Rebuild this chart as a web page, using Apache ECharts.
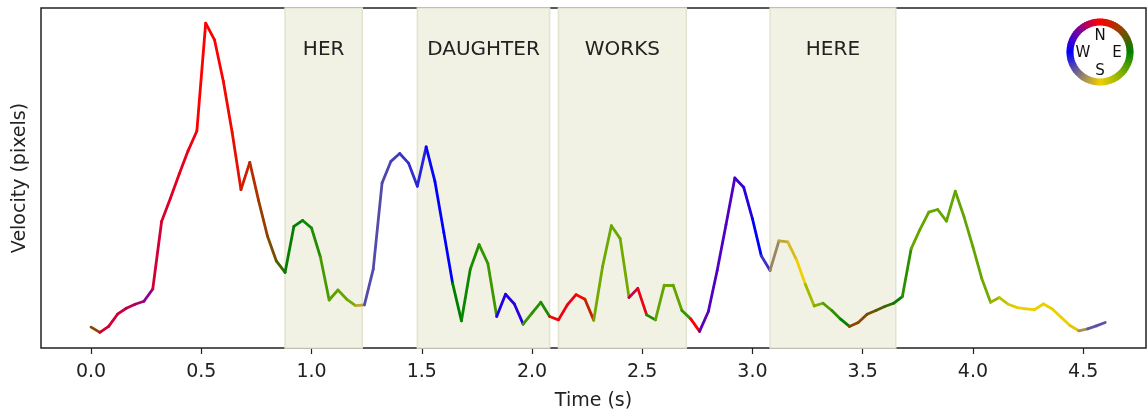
<!DOCTYPE html>
<html>
<head>
<meta charset="utf-8">
<script src="https://cdn.jsdelivr.net/npm/echarts@6/dist/echarts.min.js"></script>
<style>
  html, body { margin: 0; padding: 0; background: #fff; }
  #chart { width: 1148px; height: 416px; }
</style>
</head>
<body>
<div id="chart"></div>
<script>
// 25 fps samples, one velocity value per frame
const frameStep = 0.04
const velocity = [
  21, 15.7, 21.7, 34, 40, 44, 47, 59.3, 127.3, 150.7,
  175, 198.3, 218.3, 326.7, 310, 268.3, 217, 159.3, 186.7, 148.3,
  112.7, 87.7, 76, 122.3, 128.3, 120.7, 91.7, 48.3, 58.3, 49,
  42.7, 43.3, 79.3, 166, 187.7, 195.7, 186, 162.7, 202.3, 167.3,
  116.3, 65, 27.3, 79.3, 104, 85, 31.7, 54, 44.3, 24,
  35, 46, 31.7, 28.3, 43.3, 53.7, 49, 28, 81.7, 123,
  110, 50.8, 60, 33.3, 28.3, 63.3, 63.3, 37.7, 29.3, 16.7,
  36.7, 78, 124, 171, 161.7, 130, 92.7, 78, 107.7, 106.7,
  88.7, 64, 42.3, 45, 37.7, 29, 21.7, 25.7, 34, 37.7,
  41.7, 45, 51.7, 100, 119.3, 136.7, 139.3, 127.7, 157.7, 131.7,
  101.7, 70, 46, 50.7, 44, 40.7, 39.3, 38.7, 44.3, 39.3,
  31, 22.7, 17.3, 19.3, 22.3, 25.7
]
// movement direction of each segment, degrees clockwise from north
const direction = [
  45, 345, 345, 342, 338, 332, 322, 345, 348, 350,
  352, 355, 0, 0, 0, 5, 10, 20, 30, 40,
  50, 68, 88, 90, 95, 102, 115, 122, 125, 130,
  200, 240, 240, 242, 245, 250, 252, 256, 268, 270,
  270, 90, 95, 100, 108, 112, 282, 285, 285, 110,
  105, 100, 8, 355, 355, 2, 22, 130, 128, 128,
  130, 340, 355, 100, 125, 128, 125, 110, 0, 305,
  300, 300, 300, 295, 285, 270, 250, 215, 200, 190,
  180, 150, 135, 118, 105, 92, 45, 45, 55, 62,
  72, 88, 105, 125, 125, 125, 125, 125, 125, 125,
  125, 130, 145, 160, 172, 178, 178, 178, 178, 178,
  178, 185, 210, 235, 237
]
const words = ['HER', 'DAUGHTER', 'WORKS', 'HERE']
const wordStart = [0.88, 1.48, 2.12, 3.08]
const wordEnd = [1.23, 2.08, 2.70, 3.65]
const xTicks = [0, 0.5, 1, 1.5, 2, 2.5, 3, 3.5, 4, 4.5]
const compassLetters = ['N', 'E', 'S', 'W']

const font = 'DejaVu Sans'
const hueStops = [
  [0, [255, 0, 0]], [45, [140, 70, 0]], [90, [0, 128, 0]], [135, [128, 176, 0]],
  [180, [240, 208, 0]], [225, [128, 112, 128]], [270, [0, 0, 255]],
  [315, [120, 0, 160]], [360, [255, 0, 0]]
]

function dirColor(deg) {
  deg = ((deg % 360) + 360) % 360
  for (let k = 0; k < hueStops.length - 1; k++) {
    const a = hueStops[k], b = hueStops[k + 1]
    if (deg >= a[0] && deg <= b[0]) {
      const t = (deg - a[0]) / (b[0] - a[0])
      const c = a[1].map((v, j) => Math.round(v + (b[1][j] - v) * t))
      return 'rgb(' + c.join(',') + ')'
    }
  }
  return '#f00'
}

const times = velocity.map((_, i) => +(i * frameStep).toFixed(2))
const points = velocity.map((v, i) => [times[i], v])

const segments = direction.map((d, i) => ({
  coords: [points[i], points[i + 1]],
  lineStyle: { color: dirColor(d) }
}))

// compass ring
const cx = 1100, cy = 52
const ring = []
for (let a = 0; a < 360; a += 4) {
  ring.push({
    type: 'sector',
    shape: {
      cx, cy, r: 33.5, r0: 26.5,
      startAngle: (a - 90 - 0.6) * Math.PI / 180,
      endAngle: (a + 4 - 90 + 0.6) * Math.PI / 180
    },
    style: { fill: dirColor(a + 2) },
    silent: true
  })
}
const letterPos = [[0, -16], [17, 1], [0, 19], [-17, 1]]
compassLetters.forEach((l, i) => {
  ring.push({
    type: 'text',
    x: cx + letterPos[i][0],
    y: cy + letterPos[i][1],
    style: {
      text: l, fontSize: 15, fill: '#111', fontFamily: font,
      align: 'center', verticalAlign: 'middle'
    },
    silent: true
  })
})

const chart = echarts.init(document.getElementById('chart'))
chart.setOption({
  animation: false,
  textStyle: { fontFamily: font },
  grid: {
    left: 41, right: 2, top: 8, bottom: 66,
    show: true, borderColor: '#222', borderWidth: 1.5, backgroundColor: 'transparent'
  },
  xAxis: {
    type: 'value', min: -0.227, max: 4.785,
    name: 'Time (s)', nameLocation: 'middle', nameGap: 44,
    nameTextStyle: { fontSize: 19, color: '#222', fontFamily: font },
    axisLine: { show: false },
    splitLine: { show: false },
    axisTick: { show: true, length: 6, customValues: xTicks, lineStyle: { color: '#222', width: 1.2 } },
    axisLabel: {
      customValues: xTicks, margin: 15, fontSize: 19, color: '#222', fontFamily: font,
      formatter: v => v.toFixed(1)
    }
  },
  yAxis: {
    type: 'value', min: 0, max: 342,
    name: 'Velocity (pixels)', nameLocation: 'middle', nameGap: 11,
    nameTextStyle: { fontSize: 19, color: '#222', fontFamily: font },
    axisLine: { show: false }, axisTick: { show: false },
    axisLabel: { show: false }, splitLine: { show: false }
  },
  graphic: ring,
  series: [
    {
      type: 'line',
      data: points,
      symbol: 'none',
      lineStyle: { opacity: 0 },
      z: 1,
      markArea: {
        silent: true,
        itemStyle: { color: '#f1f1e4', borderColor: '#e2e4cf', borderWidth: 1.5 },
        label: { position: 'insideTop', distance: 33, fontSize: 20, color: '#222', fontFamily: font },
        data: words.map((w, i) => [{ name: w, xAxis: wordStart[i] }, { xAxis: wordEnd[i] }])
      }
    },
    {
      type: 'lines',
      coordinateSystem: 'cartesian2d',
      z: 3,
      lineStyle: { width: 2.8, opacity: 1, cap: 'round' },
      data: segments
    }
  ]
})
</script>
</body>
</html>
